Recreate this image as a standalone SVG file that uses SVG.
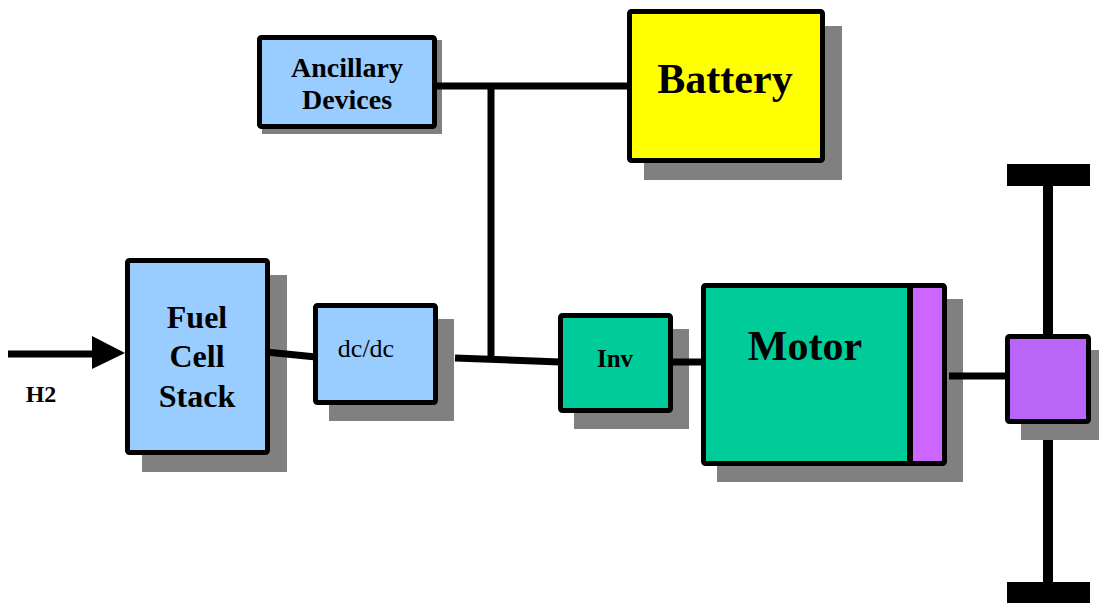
<svg xmlns="http://www.w3.org/2000/svg" width="1099" height="603" viewBox="0 0 1099 603">
<style>
.sh{fill:#808080}
.bx{stroke:#000;stroke-width:5}
.blue{fill:#99CCFF}
.green{fill:#00CC99}
.t{font-family:"Liberation Serif","Times New Roman",serif;font-weight:bold;fill:#000;text-anchor:middle}
.n{font-family:"Liberation Serif","Times New Roman",serif;fill:#000;text-anchor:middle}
.ln{stroke:#000;stroke-width:7;fill:none}
</style>
<rect width="1099" height="603" fill="#fff"/>
<g id="fuelcell">
<rect class="sh" x="142" y="275" width="145" height="197"/>
<rect class="bx blue" x="127.5" y="260.5" width="140" height="192" rx="2"/>
<text class="t" font-size="32" x="197" y="328">Fuel</text>
<text class="t" font-size="32" x="197" y="367">Cell</text>
<text class="t" font-size="32" x="197" y="407">Stack</text>
</g>
<g id="ancillary">
<rect class="sh" x="262" y="40" width="180" height="94"/>
<rect class="bx blue" x="259.5" y="37.5" width="175" height="89" rx="2"/>
<text class="t" font-size="28" x="347" y="77">Ancillary</text>
<text class="t" font-size="28" x="347" y="109">Devices</text>
</g>
<g id="battery">
<rect class="sh" x="644" y="26" width="198" height="154"/>
<rect class="bx" fill="#FFFF00" x="629.5" y="11.5" width="193" height="149" rx="2"/>
<text class="t" font-size="42" x="725" y="93">Battery</text>
</g>
<g id="dcdc">
<rect class="sh" x="329" y="319" width="125" height="102"/>
<rect class="bx blue" x="315.5" y="305.5" width="120" height="97" rx="2"/>
<text class="n" font-size="26" x="366" y="357">dc/dc</text>
</g>
<g id="inv">
<rect class="sh" x="574" y="329" width="115" height="100"/>
<rect class="bx green" x="560.5" y="315.5" width="110" height="95" rx="2"/>
<text class="t" font-size="25" x="615" y="367">Inv</text>
</g>
<g id="motor">
<rect class="sh" x="717" y="299" width="246" height="183"/>
<rect class="green" x="703.5" y="285.5" width="241" height="178"/>
<rect fill="#CC66FF" x="910" y="285.5" width="34.5" height="178"/>
<line x1="910" y1="285" x2="910" y2="464" stroke="#000" stroke-width="6"/>
<rect class="bx" fill="none" x="703.5" y="285.5" width="241" height="178" rx="2"/>
<text class="t" font-size="42" x="805" y="360">Motor</text>
</g>
<g id="axle">
<rect x="1043" y="185" width="10" height="152" fill="#000"/>
<rect x="1043" y="421" width="10" height="162" fill="#000"/>
<rect x="1007" y="164" width="83" height="22" fill="#000"/>
<rect x="1007" y="582" width="83" height="21" fill="#000"/>
</g>
<g id="differential">
<rect class="sh" x="1021" y="350" width="86" height="90"/>
<rect class="bx" fill="#B865F8" x="1007.5" y="336.5" width="81" height="85" rx="2"/>
</g>
<g id="connectors">
<line class="ln" x1="8" y1="354" x2="96" y2="354" stroke-width="8"/>
<polygon points="92,336 125,353 92,369" fill="#000"/>
<text class="t" font-size="24" x="41" y="402">H2</text>
<line class="ln" x1="266" y1="352" x2="316" y2="357"/>
<line class="ln" x1="435" y1="86" x2="630" y2="86"/>
<line class="ln" x1="491" y1="83" x2="491" y2="360"/>
<line class="ln" x1="455" y1="358" x2="560" y2="362"/>
<line class="ln" x1="670" y1="362" x2="705" y2="362"/>
<line class="ln" x1="949" y1="376" x2="1008" y2="376"/>
</g>
</svg>
